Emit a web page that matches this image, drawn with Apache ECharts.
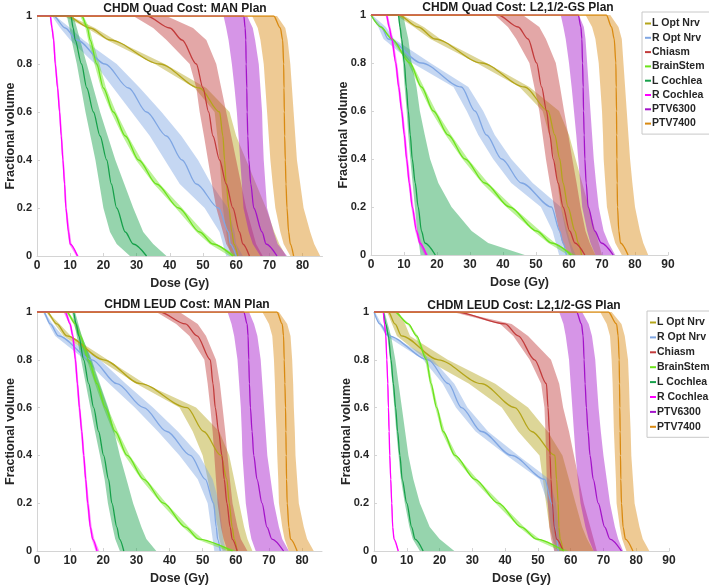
<!DOCTYPE html>
<html>
<head>
<meta charset="utf-8">
<script src="https://cdn.jsdelivr.net/npm/echarts/dist/echarts.min.js"></script>
<style>
  html, body { margin: 0; padding: 0; background: #fff; }
  #main { width: 709px; height: 586px; }
</style>
</head>
<body>
<div id="main"></div>
<script>
// volume levels (fraction) at which dose values were read
const VOL = [1, 0.95, 0.9, 0.8, 0.7, 0.6, 0.5, 0.4, 0.3, 0.2, 0.1, 0.05, 0];
const STRUCTS = ['L Opt Nrv', 'R Opt Nrv', 'Chiasm', 'BrainStem', 'L Cochlea', 'R Cochlea', 'PTV6300', 'PTV7400'];
const COLORS = ['#b4a51a', '#7fa6e3', '#c23b3b', '#6be31a', '#16a04a', '#ff00ff', '#a313c9', '#d98a11'];
const TITLES = ['CHDM Quad Cost: MAN Plan', 'CHDM Quad Cost: L2,1/2-GS Plan', 'CHDM LEUD Cost: MAN Plan', 'CHDM LEUD Cost: L2,1/2-GS Plan'];
const X_MAX = [86, 90, 86, 90];

// dose (Gy) per structure: [mean, lower edge, upper edge]
const quadMan = [
  [[9, 16, 22, 37, 49, 55, 56, 56.5, 57, 57.8, 58.7, 59.3, 60.5],
   [8, 15, 21, 35.5, 47.5, 53.5, 54.3, 55, 55.5, 56, 57, 57.5, 58.5],
   [10, 17.5, 23.5, 38.5, 51, 58, 60, 63, 66, 69, 71.5, 73, 75]],
  [[5, 8.5, 12, 20.5, 27.6, 33, 39, 43.7, 48, 54.7, 57.7, 58.2, 60],
   [4.5, 7, 10, 17.5, 23, 28.5, 34, 38.5, 43, 50.5, 55, 56, 57],
   [5.5, 10, 14, 24, 31, 37.5, 43.5, 48.5, 52.5, 57.5, 59.5, 60, 62]],
  [[33, 40, 43.7, 48, 50, 51.7, 53, 55, 57, 59, 61, 62, 64],
   [29, 35, 39, 46, 48, 49, 50.3, 51.5, 52.7, 54, 56, 57, 59],
   [39, 47, 51, 54, 55.5, 57, 58.5, 60, 61.5, 63, 65, 66, 68]],
  [[13.5, 15.2, 16, 18, 20, 23, 26.6, 30.6, 36, 42.7, 49, 53, 59],
   [13, 14.6, 15.4, 17.3, 19.3, 22.3, 25.8, 29.8, 35.2, 41.8, 48, 52, 58],
   [14, 15.8, 16.7, 18.8, 20.8, 23.8, 27.4, 31.5, 37, 43.7, 50.2, 54.2, 60.5]],
  [[10.2, 10.9, 11.5, 13.4, 15, 17, 19, 21, 22.4, 24, 26.6, 29, 33],
   [9, 9.8, 10.4, 12, 13.3, 14.6, 16.1, 17.6, 18.8, 20, 22, 24, 28],
   [11, 12, 13, 15, 17, 19, 21.3, 23.6, 26.3, 29, 32, 35, 39]],
  [[4, 4.5, 5, 5.5, 6.2, 6.8, 7.3, 7.8, 8.3, 8.7, 9.5, 10, 12.2],
   [3.8, 4.3, 4.8, 5.3, 6, 6.6, 7.1, 7.6, 8.1, 8.5, 9.2, 9.7, 11.8],
   [4.3, 4.8, 5.3, 5.8, 6.5, 7.1, 7.6, 8.1, 8.6, 9, 9.9, 10.4, 12.6]],
  [[62.3, 62.7, 62.9, 63, 63.2, 63.3, 63.5, 63.8, 64.4, 65.3, 67.8, 69, 72.3],
   [56.2, 57, 57.7, 58.7, 59.5, 60.2, 60.7, 61.2, 61.7, 62.2, 63.8, 65, 67.3],
   [63.3, 65, 65.7, 66.8, 67.3, 67.8, 68, 68.3, 68.8, 69.3, 71.3, 72.5, 75.3]],
  [[71.3, 73.3, 74, 74.3, 74.4, 74.5, 74.6, 74.8, 75, 75.3, 75.8, 76.3, 77.3],
   [64.8, 66.5, 67.3, 68.3, 68.8, 69.3, 69.8, 70.3, 71, 71.8, 73.3, 74.3, 76.3],
   [72.3, 74.8, 75.5, 76.3, 76.8, 77.3, 77.8, 78.3, 79.3, 80.3, 82.3, 83.5, 85.3]]
];

const quadL2 = [
  [[8.3, 14.3, 19.4, 33.5, 46.6, 53.7, 55.7, 57.2, 58.2, 59.7, 61.8, 62.8, 63.8],
   [7.5, 13, 18, 32, 45, 52, 54, 55.5, 56.5, 57.5, 59, 60, 61],
   [9.5, 16, 21, 35, 48, 57, 60, 62, 64, 66, 68, 69, 70]],
  [[0, 3.2, 5.2, 15.3, 27.4, 31.5, 35, 39.6, 45.6, 54.7, 57.2, 58.2, 59.2],
   [0, 2.2, 3.8, 12.5, 25, 29, 32.5, 37, 42.5, 51.5, 55, 56, 57],
   [0.3, 4.5, 7, 18, 29.5, 34, 37.5, 42.5, 49, 57.5, 59.5, 60.5, 62]],
  [[38.5, 44.6, 47.6, 50.2, 51.7, 53.2, 54.2, 55.2, 56.7, 58.2, 60.2, 61.8, 64.8],
   [37.5, 41.5, 44, 48, 49.5, 51, 52, 53, 54.2, 55.5, 57, 58, 60],
   [46, 51, 53, 56, 57.3, 58.5, 59.8, 61, 62.3, 63.5, 65, 66.3, 68]],
  [[0, 3, 6.3, 11.8, 15.3, 18.9, 23.4, 28.5, 34.5, 42, 50.2, 54.7, 60.7],
   [0, 2.7, 5.9, 11.2, 14.7, 18.2, 22.6, 27.7, 33.6, 41, 49.2, 53.7, 59.7],
   [0, 3.3, 6.7, 12.4, 16, 19.7, 24.3, 29.4, 35.5, 43, 51.3, 55.8, 62]],
  [[8.3, 8.8, 9.3, 10.1, 10.7, 11.3, 11.9, 12.5, 13.4, 14.3, 15.3, 16.3, 19.5],
   [8.2, 8.6, 9, 9.7, 10.2, 10.8, 11.3, 11.9, 12.6, 13.3, 14, 14.5, 15],
   [9.8, 10.5, 11.3, 12.3, 13.8, 14.8, 16.3, 17.9, 20.4, 24.4, 30.5, 35.5, 46.6]],
  [[4.7, 5.5, 6.3, 7.5, 8.4, 9.3, 10.1, 10.8, 11.6, 12.5, 13.8, 14.8, 16.8],
   [4.4, 5.2, 6, 7.2, 8.1, 9, 9.8, 10.5, 11.3, 12.2, 13.4, 14.4, 16.3],
   [5.1, 5.9, 6.7, 7.9, 8.8, 9.7, 10.5, 11.2, 12, 12.9, 14.2, 15.3, 17.3]],
  [[62.8, 63.6, 63.9, 64.1, 64.3, 64.4, 64.6, 64.8, 65.2, 65.8, 67.8, 69.8, 73.4],
   [57.5, 58.3, 59, 60, 60.8, 61.5, 62.2, 62.8, 63.4, 64, 65.5, 66.5, 68],
   [63, 64.5, 65, 65.5, 66, 66.5, 67, 67.5, 68.2, 69, 70.5, 72, 74]],
  [[71.3, 72.9, 73.7, 74.2, 74.3, 74.4, 74.45, 74.5, 74.6, 74.7, 75.1, 75.6, 77.9],
   [65, 67, 68, 69, 69.5, 70, 70.3, 70.5, 71, 71.5, 73, 74, 76],
   [72.5, 75, 76, 76.5, 77, 77.5, 78, 78.5, 79.2, 80, 81.5, 82.5, 84]]
];

const leudMan = [
  [[3, 6, 9, 20.1, 31.2, 45.3, 50.3, 55.5, 57.3, 58, 58.9, 59.5, 60.4],
   [2.8, 5.3, 8, 18.8, 30, 43, 47, 50, 51.5, 53, 54.5, 55, 56],
   [3.3, 6.8, 10.2, 21.3, 32.5, 48, 55, 58, 59.5, 61, 62.5, 63.5, 65]],
  [[2, 4, 6.5, 16.6, 24.1, 32.2, 39.2, 46.3, 50.8, 53.3, 54.1, 54.5, 55.3],
   [1.8, 3.5, 5.5, 14.5, 21.8, 29.5, 36.5, 43, 48.5, 51.5, 52.5, 53, 53.5],
   [2.3, 4.7, 7.8, 19, 26.8, 35, 42.5, 49, 53, 55, 55.8, 56.2, 57]],
  [[37, 44.8, 48.3, 52.3, 53.1, 53.8, 54.8, 55.8, 56.5, 57.3, 58.3, 58.9, 60.4],
   [36, 42, 46, 50.5, 51.5, 52.3, 53, 53.5, 54, 54.5, 55.5, 56.3, 57.5],
   [43, 48.5, 51, 54, 55.2, 56, 56.8, 57.5, 58.2, 59, 60.5, 61.5, 63.5]],
  [[9, 11.6, 13, 15.6, 18.1, 20.6, 23.6, 27.2, 32.2, 38.2, 44.8, 48.8, 59],
   [8.8, 11, 12.4, 15, 17.5, 20, 22.9, 26.5, 31.4, 37.4, 44, 48, 57.5],
   [9.4, 12.2, 13.6, 16.2, 18.8, 21.3, 24.4, 28, 33, 39, 45.8, 50, 60.5]],
  [[11, 11.8, 12.6, 14.1, 15.6, 17.1, 18.6, 20.1, 21.6, 22.6, 24.1, 24.9, 26.2],
   [10.6, 11.3, 12, 13.3, 14.7, 16.1, 17.5, 19, 20.4, 21.4, 22.8, 23.6, 25],
   [11.5, 12.5, 13.5, 16.5, 19, 21.5, 23.3, 25, 27, 29, 31.5, 33, 36]],
  [[8.5, 10, 10.8, 11.6, 12.2, 12.8, 13.5, 14.1, 14.7, 15.3, 16.1, 16.8, 18.1],
   [8, 9.7, 10.5, 11.3, 11.9, 12.5, 13.2, 13.8, 14.4, 15, 15.8, 16.5, 17.7],
   [9, 10.3, 11.1, 11.9, 12.5, 13.1, 13.8, 14.4, 15, 15.7, 16.5, 17.3, 18.8]],
  [[62.4, 63.4, 63.7, 63.9, 64.1, 64.4, 64.9, 65.4, 66.4, 67.9, 69.4, 70.9, 74.4],
   [57.5, 58.7, 59.5, 60.5, 61, 61.5, 61.8, 62, 62.5, 63, 64, 64.7, 66],
   [64, 65.5, 66.5, 67.5, 68, 68.5, 69, 69.5, 70.5, 71.5, 73, 74, 76]],
  [[72.4, 74, 74.4, 74.6, 74.8, 75, 75.1, 75.2, 75.3, 75.5, 76, 76.5, 78.5],
   [68, 70, 71, 71.5, 71.8, 72, 72.3, 72.5, 72.8, 73, 74, 74.7, 76],
   [73, 75.5, 76.5, 77, 77.3, 77.5, 77.8, 78, 78.5, 79, 80.5, 81.5, 83.5]]
];

const leudL2 = [
  [[4.4, 6.4, 8.4, 19.6, 32.8, 43, 48.1, 55.2, 55.7, 56.2, 56.4, 56.8, 57.7],
   [4, 5.5, 7, 16, 29, 39, 44, 50.5, 51.5, 52.5, 53.5, 54.5, 56],
   [7.5, 9.5, 11, 22.5, 37, 47, 53, 57.5, 59.5, 61.5, 63.5, 65, 67]],
  [[0, 1.8, 4.4, 16.6, 22.7, 26.7, 32.8, 42, 52.1, 54.2, 55.2, 55.7, 56.2],
   [0, 1.5, 3.8, 15, 21, 25, 31, 40.5, 50.5, 53, 54, 54.5, 55],
   [0.3, 2.3, 5.3, 18, 24.5, 28.5, 34.8, 44, 53.5, 55.5, 56.3, 56.8, 57.5]],
  [[25, 40, 44, 49, 52.6, 53.1, 53.5, 53.7, 54, 54.4, 55, 55.7, 57.7],
   [24, 38.5, 42.5, 47.5, 51, 52, 52.3, 52.5, 52.7, 53, 53.5, 54, 55],
   [26, 42, 47, 54, 56.5, 57.7, 59.5, 61, 62.5, 64, 66, 67, 68]],
  [[6.4, 10.5, 13, 16, 17.4, 19.1, 21.1, 24.7, 30.8, 37.9, 45, 49.6, 58],
   [6.2, 10.2, 12.6, 15.6, 17, 18.7, 20.6, 24.1, 30.1, 37.1, 44.2, 48.8, 57],
   [6.7, 10.8, 13.4, 16.4, 17.8, 19.5, 21.6, 25.3, 31.5, 38.7, 45.8, 50.5, 59.5]],
  [[2.8, 3.6, 4.4, 5.2, 5.9, 6.6, 7.2, 7.9, 8.6, 10, 11.5, 12.5, 15],
   [2.7, 3.4, 4.1, 4.9, 5.6, 6.2, 6.8, 7.5, 8.2, 9.4, 10.8, 11.8, 14],
   [3.2, 4.2, 5.2, 6.5, 7.5, 8.5, 9.5, 10.5, 12, 14, 17, 20, 24.5]],
  [[2.8, 3.2, 3.6, 3.9, 4.2, 4.4, 4.6, 4.8, 5.1, 5.4, 5.7, 6.1, 7.4],
   [2.7, 3.1, 3.5, 3.8, 4.1, 4.3, 4.5, 4.7, 5, 5.3, 5.6, 6, 7.2],
   [3, 3.4, 3.8, 4.1, 4.4, 4.6, 4.8, 5, 5.3, 5.6, 5.9, 6.3, 7.6]],
  [[61.8, 63.3, 63.8, 64.1, 64.4, 64.8, 65.3, 65.9, 66.9, 68.4, 70.4, 72, 75.5],
   [56.5, 57.8, 58.5, 59.5, 60, 60.5, 61, 61.5, 62.2, 63, 64.5, 65.5, 67],
   [63.5, 65.5, 66.5, 67.5, 68, 68.5, 69.2, 70, 71, 72, 73.5, 74.5, 76]],
  [[71.5, 74, 74.5, 74.8, 74.9, 75, 75.1, 75.2, 75.3, 75.5, 76, 76.7, 79],
   [69, 71, 72, 72.5, 72.8, 73, 73.2, 73.5, 73.8, 74, 75, 75.7, 77],
   [72.5, 75.5, 76.5, 77.5, 77.8, 78, 78.3, 78.5, 79, 79.5, 81, 82, 84]]
];

const PANELS = [quadMan, quadL2, leudMan, leudL2];

const FONT = 'Liberation Sans, Arial, sans-serif';
const GRIDS = [
  { left: 37, top: 16, width: 285.5, height: 240 },
  { left: 371, top: 15, width: 297, height: 240 },
  { left: 37, top: 312, width: 285, height: 240 },
  { left: 374, top: 312, width: 295, height: 240 }
];
const TITLE_POS = [[185, 3], [518, 2], [187, 299], [524, 300]];

function hexA(hex, a) {
  var r = parseInt(hex.slice(1, 3), 16), g = parseInt(hex.slice(3, 5), 16), b = parseInt(hex.slice(5, 7), 16);
  return 'rgba(' + r + ',' + g + ',' + b + ',' + a + ')';
}

function bandSeries(pi, name, color, lo, hi) {
  var pts = VOL.map(function (v, k) { return [hi[k], v]; })
    .concat(VOL.map(function (v, k) { return [lo[k], v]; }).reverse());
  return {
    type: 'custom', name: name + ' band', xAxisIndex: pi, yAxisIndex: pi,
    z: 1, silent: true, data: pts,
    renderItem: function (params, api) {
      if (params.dataIndex !== 0) return;
      return {
        type: 'polygon',
        shape: { points: pts.map(function (p) { return api.coord(p); }) },
        style: { fill: hexA(color, 0.45) }
      };
    }
  };
}

function lineSeries(pi, name, color, mean) {
  var data = [[0, 1]].concat(mean.map(function (d, k) { return [d, VOL[k]]; }));
  return {
    type: 'line', name: name, xAxisIndex: pi, yAxisIndex: pi, z: 3,
    data: data, symbol: 'none', smooth: 0.3, smoothMonotone: 'x',
    color: color, lineStyle: { width: 1.3, color: color }, silent: true
  };
}

var series = [];
PANELS.forEach(function (panel, pi) {
  panel.forEach(function (d, s) {
    series.push(bandSeries(pi, STRUCTS[s], COLORS[s], d[1], d[2]));
  });
  panel.forEach(function (d, s) {
    series.push(lineSeries(pi, STRUCTS[s], COLORS[s], d[0]));
  });
});

var axisGray = '#d4d4d4';
var labelStyle = { fontFamily: FONT, fontWeight: 'bold', fontSize: 12, color: '#262626' };

var xAxes = GRIDS.map(function (g, i) {
  return {
    type: 'value', gridIndex: i, min: 0, max: X_MAX[i], interval: 10,
    name: 'Dose (Gy)', nameLocation: 'middle', nameGap: 21, nameMoveOverlap: false,
    nameTextStyle: { fontFamily: FONT, fontWeight: 'bold', fontSize: 12.5, color: '#262626' },
    axisLine: { lineStyle: { color: axisGray } },
    axisTick: { inside: true, length: 3, lineStyle: { color: axisGray } },
    splitLine: { show: false },
    axisLabel: Object.assign({ margin: 4, showMaxLabel: X_MAX[i] % 10 === 0 }, labelStyle)
  };
});

var yAxes = GRIDS.map(function (g, i) {
  return {
    type: 'value', gridIndex: i, min: 0, max: 1, interval: 0.2,
    name: 'Fractional volume', nameLocation: 'middle', nameGap: i % 2 ? 21 : 20,
    nameMoveOverlap: false,
    nameTextStyle: { fontFamily: FONT, fontWeight: 'bold', fontSize: 12.5, color: '#262626' },
    axisLine: { show: true, lineStyle: { color: axisGray } },
    axisTick: { show: true, inside: true, length: 3, lineStyle: { color: axisGray } },
    splitLine: { show: false },
    axisLabel: Object.assign({}, labelStyle, { margin: 5, fontSize: 11 })
  };
});

var titles = TITLES.map(function (t, i) {
  return {
    text: t, left: TITLE_POS[i][0], top: TITLE_POS[i][1], textAlign: 'center', padding: 0,
    textStyle: { fontFamily: FONT, fontWeight: 'bold', fontSize: 12, color: '#1a1a1a' }
  };
});

function legendAt(left, top, gap) {
  return {
    data: STRUCTS, orient: 'vertical', left: left, top: top,
    backgroundColor: '#fff', borderColor: '#c8c8c8', borderWidth: 1,
    padding: [6, 6, 5, 3], itemGap: gap, itemWidth: 6, itemHeight: 2, icon: 'rect',
    selectedMode: false,
    textStyle: { fontFamily: FONT, fontWeight: 'bold', fontSize: 10.5, color: '#262626', padding: [0, 0, 0, -4] }
  };
}

var chart = echarts.init(document.getElementById('main'), null, { renderer: 'canvas' });
chart.setOption({
  animation: false,
  backgroundColor: '#fff',
  title: titles,
  legend: [legendAt(642, 12, 3.3), legendAt(647, 311, 3.9)],
  grid: GRIDS,
  xAxis: xAxes,
  yAxis: yAxes,
  series: series
});
</script>
</body>
</html>
